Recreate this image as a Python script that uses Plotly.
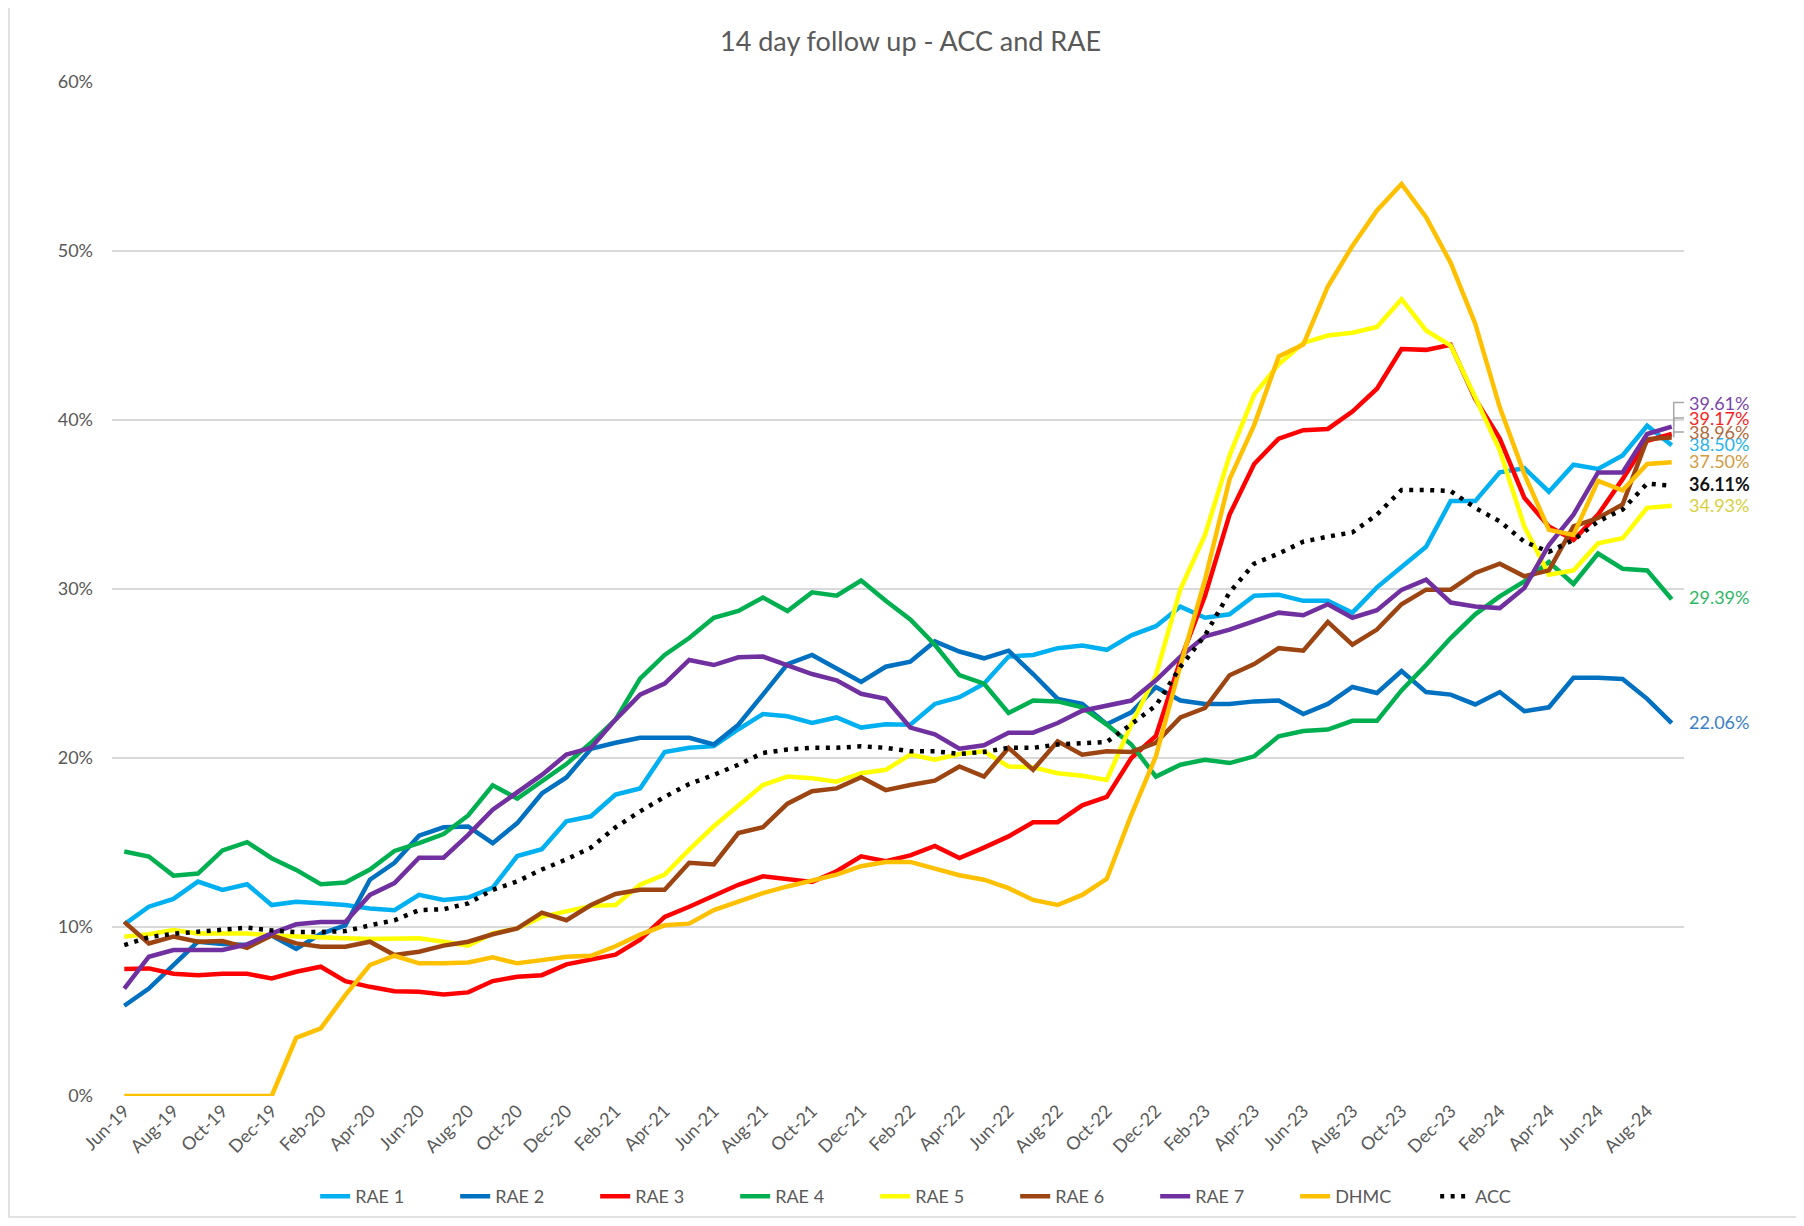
import plotly.graph_objects as go

months = ["Jun-19","Jul-19","Aug-19","Sep-19","Oct-19","Nov-19","Dec-19",
          "Jan-20","Feb-20","Mar-20","Apr-20","May-20","Jun-20","Jul-20","Aug-20","Sep-20","Oct-20","Nov-20","Dec-20",
          "Jan-21","Feb-21","Mar-21","Apr-21","May-21","Jun-21","Jul-21","Aug-21","Sep-21","Oct-21","Nov-21","Dec-21",
          "Jan-22","Feb-22","Mar-22","Apr-22","May-22","Jun-22","Jul-22","Aug-22","Sep-22","Oct-22","Nov-22","Dec-22",
          "Jan-23","Feb-23","Mar-23","Apr-23","May-23","Jun-23","Jul-23","Aug-23","Sep-23","Oct-23","Nov-23","Dec-23",
          "Jan-24","Feb-24","Mar-24","Apr-24","May-24","Jun-24","Jul-24","Aug-24","Sep-24"]
tick_labels = months[::2]

rae1 = [10.16,11.2,11.66,12.69,12.19,12.53,11.3,11.5,11.4,11.3,11.1,10.99,11.9,11.6,11.74,12.33,14.2,14.6,16.25,
        16.55,17.83,18.2,20.35,20.6,20.7,21.7,22.6,22.47,22.07,22.4,21.8,22.0,21.97,23.2,23.6,24.4,26.0,26.1,26.5,
        26.65,26.4,27.26,27.8,28.96,28.3,28.5,29.6,29.66,29.3,29.3,28.6,30.1,31.3,32.5,35.2,35.2,36.9,37.15,35.76,
        37.35,37.1,37.9,39.66,38.50]
rae2 = [5.34,6.36,7.75,9.13,9.0,8.93,9.5,8.7,9.6,10.1,12.8,13.8,15.4,15.9,15.95,14.96,16.15,17.9,18.85,
        20.55,20.9,21.2,21.2,21.2,20.8,21.97,23.75,25.56,26.1,25.3,24.5,25.4,25.7,26.9,26.3,25.9,26.35,24.97,23.5,
        23.2,22.0,22.7,24.2,23.4,23.2,23.2,23.35,23.4,22.6,23.2,24.2,23.85,25.15,23.9,23.75,23.17,23.9,22.77,23.0,
        24.75,24.75,24.67,23.5,22.06]
rae3 = [7.51,7.55,7.23,7.15,7.23,7.23,6.96,7.35,7.65,6.8,6.46,6.2,6.17,6.0,6.13,6.8,7.06,7.15,7.79,
        8.07,8.36,9.25,10.6,11.2,11.87,12.5,13.0,12.86,12.66,13.3,14.18,13.9,14.24,14.8,14.08,14.7,15.36,16.2,16.2,
        17.2,17.7,20.0,21.3,25.8,29.6,34.4,37.4,38.9,39.4,39.47,40.5,41.85,44.2,44.15,44.45,41.25,38.9,35.4,33.7,
        32.9,34.4,36.5,38.77,39.17]
rae4 = [14.47,14.17,13.04,13.16,14.53,15.02,14.07,13.38,12.53,12.63,13.4,14.5,14.96,15.5,16.6,18.38,17.6,18.66,19.64,
        20.9,22.27,24.7,26.1,27.1,28.3,28.7,29.5,28.7,29.8,29.6,30.5,29.3,28.2,26.7,24.9,24.4,22.66,23.4,23.35,
        23.0,21.98,20.8,18.9,19.6,19.9,19.7,20.1,21.28,21.6,21.68,22.2,22.2,24.0,25.5,27.1,28.5,29.56,30.45,31.6,
        30.3,32.1,31.2,31.1,29.39]
rae5 = [9.43,9.57,9.82,9.62,9.62,9.62,9.5,9.43,9.37,9.33,9.29,9.29,9.33,9.13,8.9,9.62,9.92,10.6,10.9,
        11.25,11.3,12.5,13.1,14.58,15.96,17.2,18.4,18.9,18.8,18.6,19.1,19.3,20.2,19.9,20.24,20.4,19.5,19.45,19.1,
        18.95,18.7,22.0,24.9,30.0,33.2,37.9,41.5,43.3,44.56,45.0,45.16,45.5,47.15,45.3,44.4,41.35,38.2,33.7,30.85,
        31.1,32.7,33.0,34.8,34.93]
rae6 = [10.3,9.03,9.43,9.13,9.17,8.77,9.5,9.03,8.83,8.83,9.13,8.34,8.54,8.9,9.13,9.57,9.92,10.85,10.4,
        11.3,11.95,12.2,12.2,13.8,13.7,15.56,15.9,17.3,18.03,18.2,18.86,18.1,18.4,18.66,19.5,18.9,20.6,19.3,20.99,
        20.2,20.4,20.36,20.9,22.4,22.96,24.9,25.56,26.5,26.35,28.05,26.7,27.6,29.1,29.96,29.96,30.95,31.5,30.75,31.1,
        33.7,34.2,35.0,38.87,38.96]
rae7 = [6.36,8.24,8.64,8.64,8.64,8.97,9.62,10.16,10.3,10.3,11.9,12.6,14.1,14.1,15.45,16.94,18.0,19.0,20.2,
        20.6,22.27,23.75,24.4,25.8,25.5,25.96,26.0,25.5,24.97,24.6,23.8,23.5,21.8,21.4,20.55,20.75,21.5,21.5,22.07,
        22.8,23.1,23.4,24.6,26.0,27.2,27.6,28.1,28.6,28.45,29.1,28.3,28.75,29.95,30.55,29.2,28.97,28.87,30.06,32.6,
        34.4,36.9,36.9,39.17,39.61]
dhmc = [0,0,0,0,0,0,0,3.44,4.0,5.97,7.75,8.3,7.85,7.85,7.9,8.2,7.85,8.04,8.24,
        8.3,8.86,9.55,10.1,10.2,11.0,11.5,12.0,12.4,12.74,13.1,13.6,13.85,13.85,13.45,13.06,12.8,12.3,11.6,11.3,
        11.9,12.85,16.64,20.1,25.5,30.55,36.5,39.7,43.76,44.46,47.9,50.3,52.4,53.97,52.0,49.3,45.7,40.75,36.8,33.5,
        33.2,36.4,35.84,37.4,37.50]
acc = [8.93,9.4,9.6,9.7,9.86,9.96,9.8,9.7,9.7,9.76,10.1,10.4,11.0,11.05,11.4,12.2,12.7,13.4,14.0,
       14.7,15.9,16.84,17.7,18.46,19.0,19.6,20.3,20.5,20.6,20.6,20.7,20.6,20.4,20.4,20.24,20.36,20.6,20.6,20.8,
       20.9,20.95,22.0,23.1,25.4,27.26,29.8,31.5,32.1,32.8,33.1,33.35,34.4,35.86,35.86,35.8,34.8,34.0,32.8,32.2,
       32.9,34.0,34.7,36.24,36.11]

series_names = ["RAE 1", "RAE 2", "RAE 3", "RAE 4", "RAE 5", "RAE 6", "RAE 7", "DHMC", "ACC"]
series_values = [rae1, rae2, rae3, rae4, rae5, rae6, rae7, dhmc, acc]

# styles
line_colors = ["#00B0F0", "#0070C0", "#FF0000", "#00B050", "#FFFF00", "#9C4513", "#7030A0", "#FFC000", "#000000"]
label_colors = ["#1FB4EE", "#3A80C8", "#FF2020", "#2EB865", "#D8CF3A", "#B0683A", "#7D44AA", "#D39A3E", "#111111"]
label_yshift = [1.5, 1.5, 16, 2, 1, 5.5, 24, 1.5, 2]
leader = [False, False, True, False, False, True, True, False, False]
GRAY = "#595959"
FONT = "Lato"

fig = go.Figure()
for name, vals, col in zip(series_names, series_values, line_colors):
    if name == "ACC":
        line = dict(color=col, width=4.5, dash="4px,6.5px")
    else:
        line = dict(color=col, width=4.5)
    fig.add_trace(go.Scatter(x=months, y=vals, name=name, mode="lines", line=line))

annotations = []
shapes = []
for name, vals, lc, dy, ld in zip(series_names, series_values, label_colors, label_yshift, leader):
    annotations.append(dict(
        x=months[-1], y=vals[-1], xref="x", yref="y", text=f"{vals[-1]:.2f}%",
        showarrow=False, xanchor="left", yanchor="middle", xshift=15, yshift=dy,
        font=dict(family=FONT, size=18, color=lc, weight="bold" if name == "ACC" else "normal")))
    if ld:
        shapes.append(dict(
            type="path", xref="x", yref="y", xsizemode="pixel", ysizemode="pixel",
            xanchor=months[-1], yanchor=vals[-1],
            path=f"M 15,{dy} L 2,{dy} L 2,0",
            line=dict(color="#A6A6A6", width=1.5)))

# outer chart border
W, H = 1788, 1210
ml, mr, mt, mb = 104, 112, 74, 122
pw, ph = W - ml - mr, H - mt - mb
shapes.append(dict(type="rect", xref="paper", yref="paper",
                   x0=(1 - ml) / pw, x1=(W + 20 - ml) / pw,
                   y0=-(mb - 1) / ph, y1=1 + (mt + 3) / ph,
                   line=dict(color="#D9D9D9", width=1.5), layer="below"))

fig.update_layout(
    width=W, height=H,
    margin=dict(l=ml, r=mr, t=mt, b=mb, autoexpand=False),
    paper_bgcolor="white", plot_bgcolor="white",
    title=dict(text="14 day follow up - ACC and RAE", x=0.508, xref="paper", y=1 - 33.5 / H,
               yanchor="middle", xanchor="center",
               font=dict(family=FONT, size=27, color=GRAY)),
    font=dict(family=FONT, color=GRAY),
    showlegend=True,
    legend=dict(orientation="h", x=0.53, xanchor="center", y=1 - 1188.5 / H, yref="container",
                yanchor="middle",
                font=dict(family=FONT, size=18, color=GRAY),
                entrywidth=95, entrywidthmode="pixels", traceorder="normal"),
    xaxis=dict(type="category", range=[-0.5, len(months) - 0.5], tickmode="array",
               tickvals=tick_labels, ticktext=tick_labels, tickangle=-45,
               showgrid=False, zeroline=False, showline=False, ticks="", automargin=False,
               tickfont=dict(family=FONT, size=18, color=GRAY)),
    yaxis=dict(range=[0, 60], dtick=10, ticksuffix="%", showgrid=True, gridcolor="#D9D9D9",
               gridwidth=2, zeroline=False, showline=False, ticks="", automargin=False,
               ticklabelstandoff=18,
               tickfont=dict(family=FONT, size=18, color=GRAY)),
    annotations=annotations,
    shapes=shapes,
)

fig.write_html("out.html")
